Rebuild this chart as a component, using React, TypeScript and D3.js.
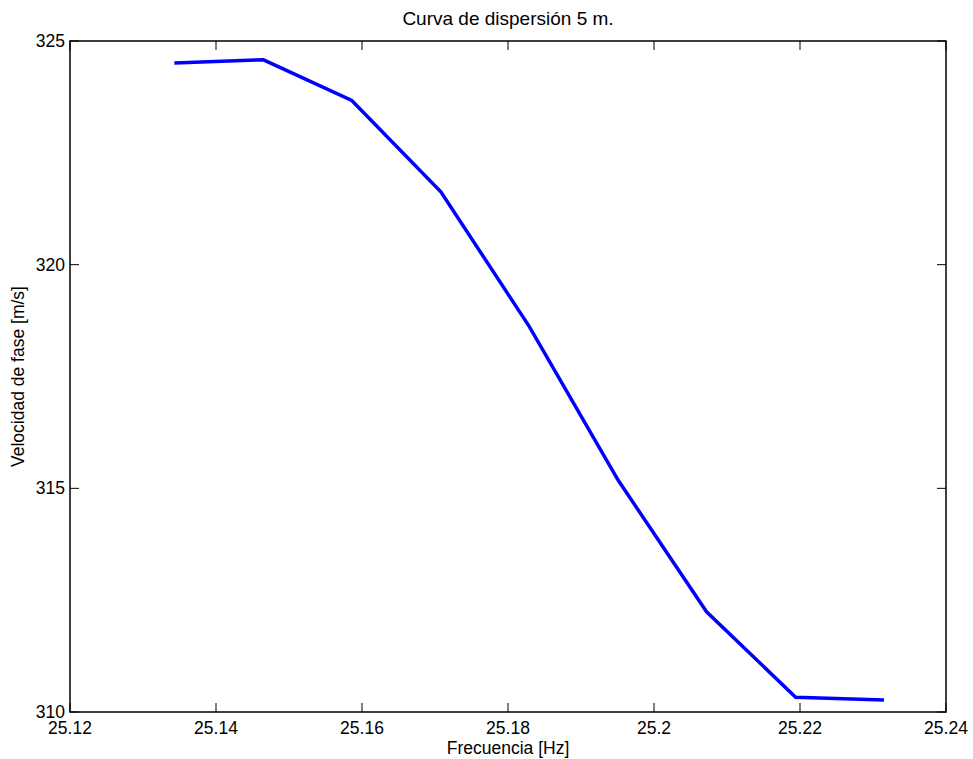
import React from "react";
import * as d3 from "d3";

const frequency = [25.1343, 25.1465, 25.1586, 25.1708, 25.1829, 25.1951, 25.2072, 25.2194, 25.2315];
const phaseVelocity = [324.51, 324.58, 323.67, 321.63, 318.62, 315.18, 312.24, 310.33, 310.27];
const xTicks = [25.12, 25.14, 25.16, 25.18, 25.2, 25.22, 25.24];
const xTickLabels = ["25.12", "25.14", "25.16", "25.18", "25.2", "25.22", "25.24"];
const yTicks = [310, 315, 320, 325];
const yTickLabels = ["310", "315", "320", "325"];

const W = 973;
const H = 759;
const L = 70, R = 946, T = 41, B = 712;
const FONT = "'Liberation Sans', Arial, Helvetica, sans-serif";
const FS = 17.5;
const TITLE_FS = 19;
const TICK = 9;

export default function App() {
  const x = d3.scaleLinear().domain([25.12, 25.24]).range([L, R]);
  const y = d3.scaleLinear().domain([310, 325]).range([B, T]);
  const line = d3
    .line<number>()
    .x((_, i) => x(frequency[i]))
    .y((d) => y(d));
  const path = line(phaseVelocity) || "";

  return (
    <div style={{ position: "absolute", left: 0, top: 0 }}>
      <svg width={W} height={H} style={{ display: "block", background: "#fff" }}>
        <rect x={0} y={0} width={W} height={H} fill="#fff" />
        <path d={path} fill="none" stroke="#0000ff" strokeWidth={3.5} strokeLinejoin="miter" />
        <rect x={L} y={T} width={R - L} height={B - T} fill="none" stroke="#000" strokeWidth={1.5} />
        {xTicks.map((t, i) => (
          <g key={"x" + i}>
            <line x1={x(t)} x2={x(t)} y1={B} y2={B - TICK} stroke="#000" strokeWidth={1} />
            <line x1={x(t)} x2={x(t)} y1={T} y2={T + TICK} stroke="#000" strokeWidth={1} />
            <text x={x(t)} y={734} textAnchor="middle" fontFamily={FONT} fontSize={FS} fill="#000">
              {xTickLabels[i]}
            </text>
          </g>
        ))}
        {yTicks.map((t, i) => (
          <g key={"y" + i}>
            <line x1={L} x2={L + TICK} y1={y(t)} y2={y(t)} stroke="#000" strokeWidth={1} />
            <line x1={R} x2={R - TICK} y1={y(t)} y2={y(t)} stroke="#000" strokeWidth={1} />
            <text x={65} y={y(t)} dy="0.35em" textAnchor="end" fontFamily={FONT} fontSize={FS} fill="#000">
              {yTickLabels[i]}
            </text>
          </g>
        ))}
        <text x={(L + R) / 2} y={25} textAnchor="middle" fontFamily={FONT} fontSize={TITLE_FS} fill="#000">
          Curva de dispersión 5 m.
        </text>
        <text x={(L + R) / 2} y={754} textAnchor="middle" fontFamily={FONT} fontSize={FS} fill="#000">
          Frecuencia [Hz]
        </text>
        <text
          transform={`translate(24, ${(T + B) / 2}) rotate(-90)`}
          textAnchor="middle"
          fontFamily={FONT}
          fontSize={FS}
          fill="#000"
        >
          Velocidad de fase [m/s]
        </text>
      </svg>
    </div>
  );
}
